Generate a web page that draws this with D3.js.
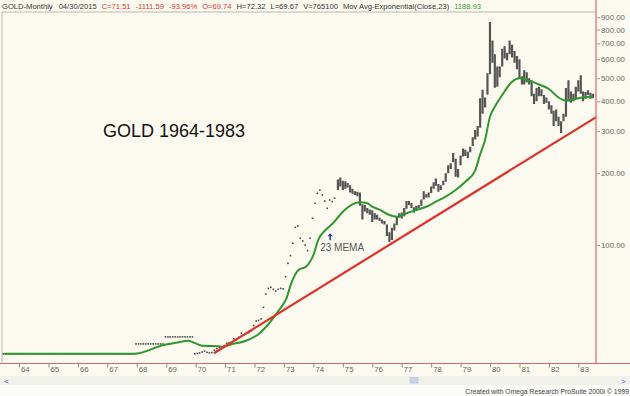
<!DOCTYPE html>
<html>
<head>
<meta charset="utf-8">
<script src="https://cdnjs.cloudflare.com/ajax/libs/d3/7.8.5/d3.min.js"></script>
<style>
body { margin: 0; background: #fdfbf0; }
svg { display: block; font-family: Arial, "Liberation Sans", sans-serif; }
</style>
</head>
<body>
<div id="chart"></div>
<script>
// monthly closes, dot period (Jul 1963 - Oct 1974)
var closeStart = "1963-07";
var closes = [
	35, 35, 35, 35, 35, 35,
	35, 35, 35, 35, 35, 35, 35, 35, 35, 35, 35, 35,
	35, 35, 35, 35, 35, 35, 35, 35, 35, 35, 35, 35,
	35, 35, 35, 35, 35, 35, 35, 35, 35, 35, 35, 35,
	35, 35, 35, 35, 35, 35, 35, 35, 35, 35, 35, 35,
	38.5, 38.5, 38.5, 38.5, 38.5, 38.5, 38.5, 38.5, 38.5, 38.5, 38.5, 38.5,
	41.2, 41.2, 41.2, 41.2, 41.2, 41.2, 41.2, 41.2, 41.2, 41.2, 41.2, 41.2,
	35.0, 35.1, 35.3, 35.6, 35.9, 35.5, 35.3, 35.4, 36.2, 36.8, 37.2, 37.4,
	37.9, 38.7, 38.9, 39.0, 40.5, 40.1, 41.0, 42.7, 42.0, 42.5, 42.9, 43.6,
	46.0, 48.0, 48.3, 49.0, 54.8, 62.3, 65.8, 66.5, 65.2, 64.1, 65.2, 65.8,
	65.5, 73.6, 83.8, 90.2, 101.7, 118.6, 120.1, 106.7, 103.9, 100.0, 94.7, 106.7,
	129.4, 149.5, 164.7, 170.0, 162.0, 152.9, 142.5, 154.4, 151.9, 157.0
];

// monthly high / low bars (Nov 1974 - Jul 1983)
var barStart = "1974-11";
var barHigh = [
	188, 192,
	186, 185, 182, 178, 172, 168, 167, 166, 148, 147, 143, 141,
	140, 136, 134, 130, 128, 126, 122, 113, 118, 123, 131, 136,
	137, 143, 153, 153, 150, 144, 146, 147, 155, 168, 163, 166,
	176, 183, 190, 180, 178, 186, 200, 216, 220, 243, 230, 208,
	237, 254, 251, 246, 258, 283, 303, 315, 412, 447, 415, 524,
	860, 720, 630, 560, 560, 665, 680, 640, 720, 690, 650, 620,
	600, 510, 540, 530, 500, 490, 430, 455, 460, 450, 425, 415,
	400, 385, 365, 370, 345, 330, 355, 455, 490, 440, 430, 460,
	490, 515, 440, 438, 445, 435, 430
];
var barLow = [
	170, 176,
	170, 172, 174, 166, 164, 162, 160, 146, 128, 138, 136, 134,
	125, 128, 128, 126, 123, 122, 109, 103, 105, 115, 121, 130,
	129, 132, 142, 147, 143, 137, 140, 143, 146, 155, 158, 158,
	165, 172, 177, 167, 170, 178, 184, 200, 208, 222, 193, 192,
	216, 235, 236, 231, 245, 260, 277, 285, 310, 355, 377, 426,
	520, 580, 456, 460, 505, 560, 605, 595, 630, 610, 580, 545,
	498, 470, 470, 480, 470, 420, 390, 400, 420, 420, 390, 395,
	370, 355, 315, 330, 315, 295, 330, 345, 400, 395, 400, 410,
	440, 430, 400, 410, 425, 410, 412
];

// 23 month exponential average
var emaDates = ["1963-07","1967-12","1968-12","1969-05","1969-10","1970-01","1970-04","1970-08","1970-12",
	"1971-04","1971-09","1972-03","1972-07","1972-11","1973-02","1973-04","1973-07","1973-10",
	"1974-01","1974-03","1974-06","1974-09","1975-01","1975-05","1975-08","1975-11","1976-01",
	"1976-04","1976-08","1976-11","1977-03","1977-07","1977-11","1978-03","1978-07","1978-11",
	"1979-03","1979-07","1979-09","1979-11","1980-01","1980-03","1980-06","1980-10","1981-01",
	"1981-05","1981-09","1982-01","1982-05","1982-08","1982-11","1983-03","1983-07"];
var emaValues = [35.0, 35.0, 38.1, 38.9, 39.7, 38.7, 37.8, 37.7, 37.5,
	38.5, 39.5, 42.6, 47.0, 53.4, 59.8, 69.1, 78.6, 81.1,
	90.8, 104.9, 115.6, 123.3, 137.9, 148.1, 151.0, 149.6, 144.7,
	140.6, 133.6, 131.4, 135.8, 140.2, 144.7, 151.9, 159.4, 170.0,
	184.2, 205, 240, 275.5, 344.9, 379.8, 425.3, 483.4, 499.6,
	488.3, 470.6, 450.6, 415.1, 402.5, 407.2, 415.9, 417.9];

// trend line
var trendDates = ["1970-08-15", "1983-08-20"];
var trendValues = [35.2, 345];

var yTicks = [100, 200, 300, 400, 500, 600, 700, 800, 900];
var yearTicks = [1964, 1965, 1966, 1967, 1968, 1969, 1970, 1971, 1972, 1973,
	1974, 1975, 1976, 1977, 1978, 1979, 1980, 1981, 1982, 1983];
var yearLabels = ["64","65","66","67","68","69","70","71","72","73",
	"74","75","76","77","78","79","80","81","82","83"];

var headerParts = ["GOLD-Monthly", "04/30/2015", "C=71.51", "-1111.59", "-93.96%", "O=69.74",
	"H=72.32", "L=69.67", "V=765100", "Mov Avg-Exponential(Close,23)", "1188.93"];
var headerColors = ["#333", "#333", "#d33", "#d33", "#d33", "#d33", "#333", "#333", "#333", "#333", "#3a9a3a"];

var annoDate = "1974-07-28", annoValue = 112;

drawChart();

function drawChart() {
	var width = 630, height = 396;
	var left = 2, right = 596, top = 12, bottom = 363.5;

	var parseMonth = d3.timeParse("%Y-%m");
	var parseDay = d3.timeParse("%Y-%m-%d");

	var x = d3.scaleTime()
		.domain([new Date(1964, 0, 1), new Date(1983, 0, 1)])
		.range([19, 578.3]);
	var y = d3.scaleLog().domain([100, 900]).range([245, 17.3]);

	var svg = d3.select("#chart").append("svg")
		.attr("width", width)
		.attr("height", height);

	// backgrounds
	svg.append("rect").attr("width", width).attr("height", height).attr("fill", "#fdfbf0");
	svg.append("rect").attr("y", 376).attr("width", width).attr("height", 9).attr("fill", "#f1f1ec");
	svg.append("rect").attr("y", 385).attr("width", width).attr("height", 11).attr("fill", "#fbfbf9");

	svg.append("defs").append("clipPath").attr("id", "plotclip")
		.append("rect").attr("x", left).attr("y", top)
		.attr("width", right - left).attr("height", bottom - top);

	// frame
	svg.append("line").attr("x1", left).attr("x2", right).attr("y1", top).attr("y2", top)
		.attr("stroke", "#a9a9a0").attr("stroke-width", 0.8);
	svg.append("line").attr("x1", left).attr("x2", left).attr("y1", top).attr("y2", bottom)
		.attr("stroke", "#a9a9a0").attr("stroke-width", 0.8);

	// header
	var hx = 2;
	var header = svg.append("g").attr("font-size", "7.6px");
	headerParts.forEach(function(t, i) {
		var el = header.append("text").attr("x", hx).attr("y", 9).attr("fill", headerColors[i]).text(t);
		hx += el.node().getComputedTextLength() + (i == 0 ? 6 : 5);
	});

	var plot = svg.append("g").attr("clip-path", "url(#plotclip)");

	// dots
	var start = parseMonth(closeStart);
	var dots = closes.map(function(v, i) { return {date: d3.timeMonth.offset(start, i), v: v}; });
	plot.selectAll(".dot").data(dots).enter().append("rect")
		.attr("class", "dot")
		.attr("x", function(d) { return x(d.date) - 1.6; })
		.attr("y", function(d) { return y(d.v) - 0.8; })
		.attr("width", 1.6).attr("height", 1.6)
		.attr("fill", "#4a4a4a");

	// bars
	var bStart = parseMonth(barStart);
	var bars = barHigh.map(function(h, i) { return {date: d3.timeMonth.offset(bStart, i), h: h, l: barLow[i]}; });
	plot.selectAll(".bar").data(bars).enter().append("line")
		.attr("class", "bar")
		.attr("x1", function(d) { return x(d.date); })
		.attr("x2", function(d) { return x(d.date); })
		.attr("y1", function(d) { return y(d.h); })
		.attr("y2", function(d) { return y(d.l); })
		.attr("stroke", "#555")
		.attr("stroke-width", 2.2);

	// moving average
	var ema = emaDates.map(function(d, i) { return {date: parseMonth(d), v: emaValues[i]}; });
	var emaLine = d3.line()
		.x(function(d) { return x(d.date); })
		.y(function(d) { return y(d.v); })
		.curve(d3.curveMonotoneX);
	plot.append("path").attr("d", emaLine(ema))
		.attr("fill", "none").attr("stroke", "#2f962f").attr("stroke-width", 2);

	// trend line
	var trend = trendDates.map(function(d, i) { return {date: parseDay(d), v: trendValues[i]}; });
	plot.append("path").attr("d", emaLine.curve(d3.curveLinear)(trend))
		.attr("fill", "none").attr("stroke", "#e0302b").attr("stroke-width", 2.2);

	// axes lines
	svg.append("line").attr("x1", 0).attr("x2", width).attr("y1", bottom).attr("y2", bottom)
		.attr("stroke", "#d86a6a").attr("stroke-width", 1.2);
	svg.append("line").attr("x1", right).attr("x2", right).attr("y1", 0).attr("y2", bottom)
		.attr("stroke", "#d86a6a").attr("stroke-width", 1.2);

	// right axis
	var yAxis = svg.append("g")
		.attr("transform", "translate(" + (right + 1) + ",0)")
		.call(d3.axisRight(y).tickValues(yTicks).tickFormat(d3.format(".2f")).tickSize(3).tickPadding(1));
	yAxis.select(".domain").remove();
	yAxis.selectAll("line").attr("stroke", "#999");
	yAxis.selectAll("text").attr("fill", "#666").attr("font-size", "7.8px")
		.attr("font-family", "Arial, 'Liberation Sans', sans-serif");

	// bottom axis
	var yearDates = yearTicks.map(function(yr) { return new Date(yr, 0, 1); });
	var xAxis = svg.append("g")
		.attr("transform", "translate(0," + bottom + ")")
		.call(d3.axisBottom(x).tickValues(yearDates).tickSize(4)
			.tickFormat(function(d, i) { return yearLabels[i]; }));
	xAxis.select(".domain").remove();
	xAxis.selectAll("line").attr("stroke", "#888");
	xAxis.selectAll("text").attr("fill", "#666").attr("font-size", "7.8px")
		.attr("font-family", "Arial, 'Liberation Sans', sans-serif")
		.attr("text-anchor", "start").attr("x", 1.5).attr("y", 3).attr("dy", "0.71em");

	// title
	svg.append("text").attr("x", 103).attr("y", 137)
		.attr("font-size", "18px").attr("fill", "#111").text("GOLD 1964-1983");

	// annotation
	var ax = x(parseDay(annoDate)), ay = y(annoValue);
	svg.append("line").attr("x1", ax).attr("x2", ax).attr("y1", ay + 2).attr("y2", ay + 7)
		.attr("stroke", "#1c2cb0").attr("stroke-width", 1.4);
	svg.append("path")
		.attr("d", "M" + (ax - 2.5) + "," + (ay + 3) + "L" + ax + "," + ay + "L" + (ax + 2.5) + "," + (ay + 3) + "Z")
		.attr("fill", "#1c2cb0");
	svg.append("text").attr("x", ax - 10).attr("y", ay + 18)
		.attr("font-size", "10px").attr("fill", "#555").text("23 MEMA");

	// scroll bar and credit
	svg.append("text").attr("x", 4).attr("y", 384).attr("font-size", "8px").attr("fill", "#3d63c4").text("<");
	svg.append("text").attr("x", 621).attr("y", 384).attr("font-size", "8px").attr("fill", "#3d63c4").text(">");
	svg.append("rect").attr("x", 410).attr("y", 377.5).attr("width", 8).attr("height", 5.5)
		.attr("fill", "#c9d4e6").attr("stroke", "#a8b6cc").attr("stroke-width", 0.5);
	svg.append("text").attr("x", 629).attr("y", 394).attr("text-anchor", "end")
		.attr("font-size", "6.8px").attr("fill", "#444")
		.text("Created with Omega Research ProSuite 2000i \u00a9 1999");
}
</script>
</body>
</html>
